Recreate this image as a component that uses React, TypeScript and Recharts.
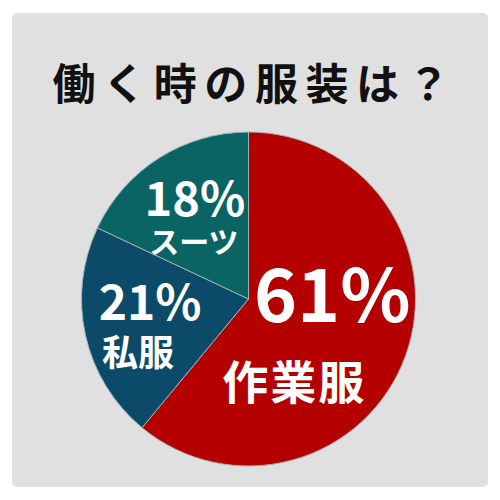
import { PieChart, Pie, Cell } from 'recharts'

const categories = ['作業服', '私服', 'スーツ']
const shares = [61, 21, 18]
const colors = ['#b40000', '#0b4a68', '#0b6464']

const title = '働く時の服装は？'

const data = categories.map((name, i) => ({ name, value: shares[i] }))

const FONT = '"Noto Sans CJK JP", "Noto Sans", sans-serif'
const RAD = Math.PI / 180

// per-slice label placement: radius from center, then offsets for the two lines
const labelLayout = [
  { r: 72, pct: { dx: 16, dy: -33, size: 73 }, name: { dx: -22, dy: 56, size: 46 } },
  { r: 107, pct: { dx: 6, dy: -23, size: 48 }, name: { dx: -6, dy: 28, size: 36 } },
  { r: 100, pct: { dx: 0, dy: -19, size: 47 }, name: { dx: -1, dy: 25, size: 30 } },
]

interface LabelProps { cx: number; cy: number; midAngle: number; index: number }
const SliceLabel = ({ cx, cy, midAngle, index }: LabelProps) => {
  const lay = labelLayout[index]
  const x = cx + lay.r * Math.cos(-midAngle * RAD)
  const y = cy + lay.r * Math.sin(-midAngle * RAD)
  return (
    <g>
      <text
        x={x + lay.pct.dx} y={y + lay.pct.dy}
        textAnchor="middle" dominantBaseline="central"
        fill="#fff" fontFamily={FONT} fontWeight={700} fontSize={lay.pct.size}
      >
        {shares[index]}%
      </text>
      <text
        x={x + lay.name.dx} y={y + lay.name.dy}
        textAnchor="middle" dominantBaseline="central"
        fill="#fff" fontFamily={FONT} fontWeight={700} fontSize={lay.name.size}
        letterSpacing={index === 0 ? 2 : 0}
      >
        {categories[index]}
      </text>
    </g>
  )
}

export default function App() {
  return (
    <div style={{ position: 'absolute', left: 0, top: 0, width: 500, height: 500, background: '#fff' }}>
      <div style={{
        position: 'absolute', left: 12, top: 13, width: 476, height: 474,
        background: '#e0e0e0', borderRadius: 5,
      }} />
      <div style={{ position: 'absolute', left: 0, top: 0 }}>
        <PieChart width={500} height={500} margin={{ top: 0, right: 0, bottom: 0, left: 0 }}>
          <text
            x={52.5} y={81} dominantBaseline="central"
            fontFamily={FONT} fontWeight={700} fontSize={43} letterSpacing={7.6} fill="#111"
          >
            {title}
          </text>
          <Pie
            data={data}
            dataKey="value"
            nameKey="name"
            cx={248.5}
            cy={299}
            outerRadius={167}
            startAngle={90}
            endAngle={-270}
            stroke="#9fb3b3"
            strokeWidth={1}
            label={SliceLabel as any}
            labelLine={false}
            isAnimationActive={false}
          >
            {data.map((d, i) => <Cell key={d.name} fill={colors[i]} />)}
          </Pie>
        </PieChart>
      </div>
    </div>
  )
}
